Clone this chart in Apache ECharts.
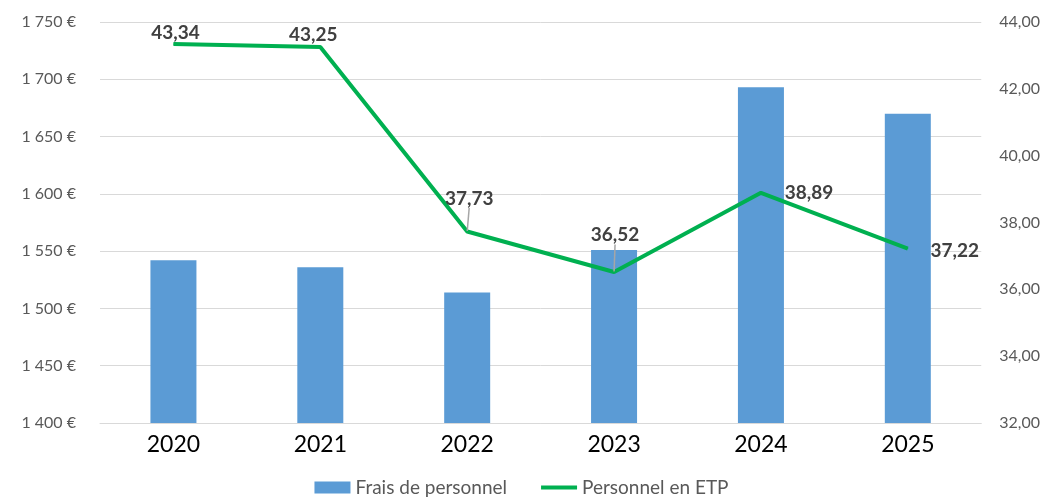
<!DOCTYPE html>
<html>
<head>
<meta charset="utf-8">
<script src="https://cdn.jsdelivr.net/npm/echarts@6/dist/echarts.min.js"></script>
<style>
  html, body { margin: 0; padding: 0; background: #fff; }
  #chart { width: 1043px; height: 502px; }
</style>
</head>
<body>
<div id="chart"></div>
<script>
var years = ['2020', '2021', '2022', '2023', '2024', '2025']
var frais = [1542, 1536, 1514, 1551, 1693, 1670]
var etp = [43.34, 43.25, 37.73, 36.52, 38.89, 37.22]

// label placement per point (pixel offsets from the point, label centre)
var labelPos = [[2, -11], [-7, -12], [2, -33], [1, -37], [48, 0], [47, 2]]
var leader = [false, false, true, true, false, false]

var FONT = 'Lato, "Open Sans", sans-serif'

var chart = echarts.init(document.getElementById('chart'))

var etpData = etp.map(function (v, i) {
  return {
    value: v,
    labelLine: { show: leader[i] }
  }
})

chart.setOption({
  animation: false,
  textStyle: { fontFamily: FONT },
  grid: { left: 100, right: 60, top: 22, bottom: 79 },
  legend: {
    bottom: 0,
    left: 'center',
    itemGap: 34,
    itemWidth: 36,
    itemHeight: 12,
    textStyle: { fontSize: 19, color: '#595959', fontFamily: FONT },
    data: [
      { name: 'Frais de personnel', icon: 'rect' },
      { name: 'Personnel en ETP', icon: 'path://M0,0 L36,0 L36,4 L0,4 Z' }
    ]
  },
  xAxis: {
    type: 'category',
    data: years,
    axisTick: { show: false },
    axisLine: { lineStyle: { color: '#d9d9d9', width: 1 } },
    axisLabel: { fontSize: 23, color: '#000', margin: 10, fontFamily: FONT }
  },
  yAxis: [{
    type: 'value',
    min: 1400,
    max: 1750,
    interval: 50,
    axisLine: { show: false },
    axisTick: { show: false },
    splitLine: { lineStyle: { color: '#d9d9d9', width: 1 } },
    axisLabel: {
      fontSize: 16,
      color: '#595959',
      margin: 24,
      formatter: function (v) {
        var s = String(v)
        return s.slice(0, 1) + ' ' + s.slice(1) + ' €'
      }
    }
  }, {
    type: 'value',
    min: 32,
    max: 44,
    interval: 2,
    position: 'right',
    axisLine: { show: false },
    axisTick: { show: false },
    splitLine: { show: false },
    axisLabel: {
      fontSize: 16,
      color: '#595959',
      margin: 18,
      formatter: function (v) { return v.toFixed(2).replace('.', ',') }
    }
  }],
  series: [{
    name: 'Frais de personnel',
    type: 'bar',
    data: frais,
    barWidth: 46,
    itemStyle: { color: '#5B9BD5' }
  }, {
    name: 'Personnel en ETP',
    type: 'line',
    yAxisIndex: 1,
    data: etpData,
    symbol: 'circle',
    symbolSize: 1,
    showSymbol: true,
    lineStyle: { color: '#00B050', width: 4 },
    itemStyle: { color: '#00B050' },
    label: {
      show: true,
      position: 'inside',
      fontSize: 19,
      fontWeight: 'bold',
      color: '#404040',
      formatter: function (p) { return p.value.toFixed(2).replace('.', ',') }
    },
    labelLine: { show: false, lineStyle: { color: '#a6a6a6', width: 1.5 } },
    labelLayout: function (params) {
      var o = labelPos[params.dataIndex]
      return { dx: o[0], dy: o[1] }
    }
  }]
})
</script>
</body>
</html>
